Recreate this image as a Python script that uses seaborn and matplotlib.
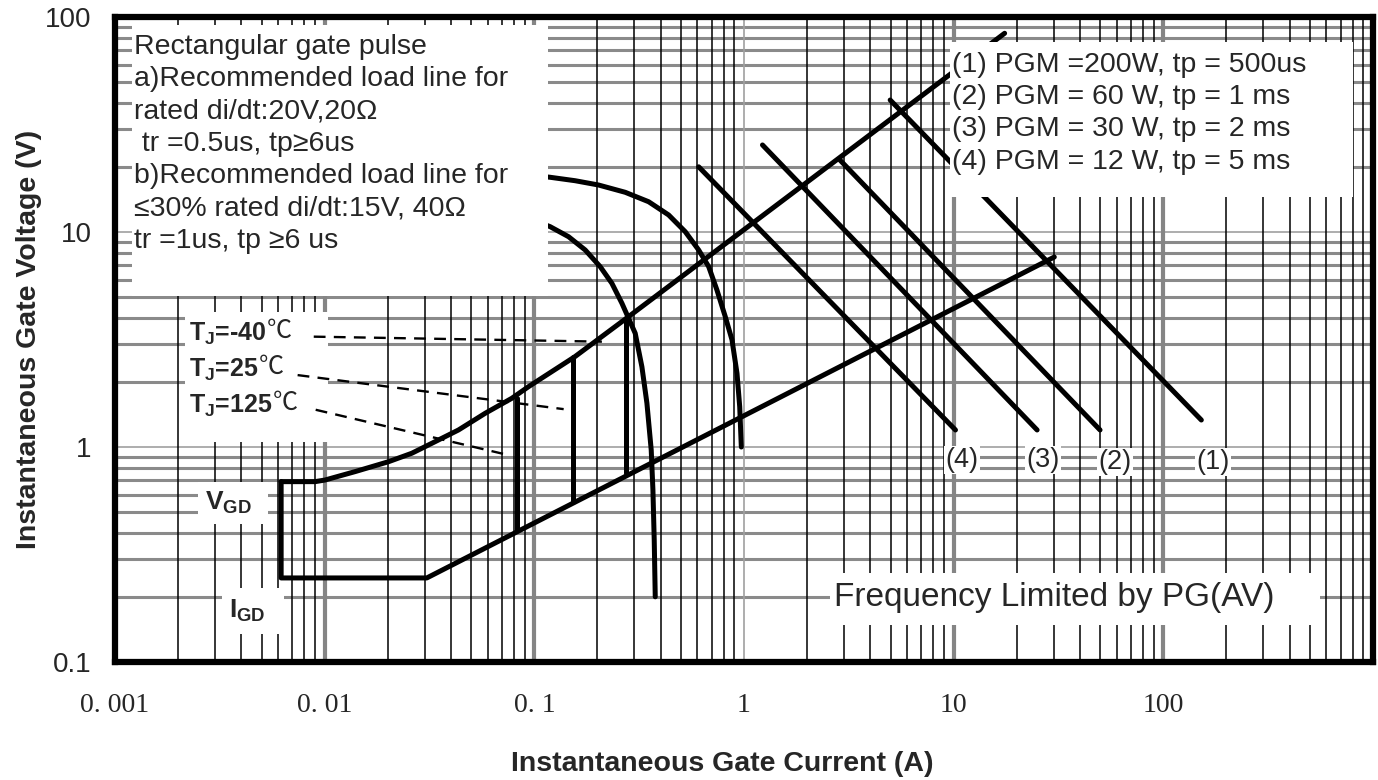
import numpy as np
import pandas as pd
import seaborn as sns
import matplotlib.pyplot as plt
from matplotlib.patches import Rectangle
from matplotlib.ticker import LogLocator, NullFormatter

# values (gate current A, gate voltage V)
load_a_I = [0.0062, 0.009, 0.01003, 0.01395, 0.02014, 0.02602, 0.03242, 0.04347,
            0.05823, 0.0781, 0.0938, 0.156, 0.275, 17.5]
load_a_V = [0.69, 0.69, 0.702, 0.768, 0.854, 0.935, 1.04, 1.20,
            1.434, 1.685, 1.908, 2.63, 3.97, 84]
load_b_I = [0.0062, 0.0062, 0.0307, 30.2]
load_b_V = [0.69, 0.246, 0.246, 7.65]

trig_I = [0.0824, 0.153, 0.275]
trig_V_top = [1.69, 2.63, 3.97]
trig_V_bot = [0.41, 0.556, 0.757]

arc_outer_I = [0.1, 0.1189, 0.1565, 0.2025, 0.2713, 0.3508, 0.4371, 0.5246, 0.6077,
               0.6785, 0.743, 0.814, 0.8765, 0.926, 0.954, 0.971]
arc_outer_V = [18.3, 17.97, 17.32, 16.54, 15.30, 13.83, 12.00, 10.03, 8.25,
               6.90, 5.37, 4.04, 3.15, 2.20, 1.54, 1.0]
arc_inner_I = [0.1, 0.1189, 0.1456, 0.1748, 0.2061, 0.2344, 0.2617, 0.3028,
               0.3259, 0.3443, 0.3610, 0.3678, 0.3731, 0.3773]
arc_inner_V = [11.3, 10.59, 9.51, 8.25, 6.90, 5.77, 4.66, 3.38,
               2.36, 1.60, 0.968, 0.631, 0.369, 0.201]

pgm_labels = ['(1)', '(2)', '(3)', '(4)']
pgm_text = ['(1) PGM =200W, tp = 500us', '(2) PGM = 60 W, tp = 1 ms',
            '(3) PGM = 30 W, tp = 2 ms', '(4) PGM = 12 W, tp = 5 ms']
pgm_I0 = [4.98, 2.87, 1.225, 0.608]
pgm_V0 = [41.1, 21.6, 25.4, 20.1]
pgm_I1 = [151.8, 49.9, 25.0, 10.2]
pgm_V1 = [1.335, 1.2, 1.2, 1.2]

tj_labels = ['-40', '25', '125']
tj_I0 = [0.00887, 0.00743, 0.00906]
tj_V0 = [3.26, 2.16, 1.49]
tj_I1 = [0.21, 0.138, 0.0715]
tj_V1 = [3.09, 1.50, 0.928]

x_ticks = [0.001, 0.01, 0.1, 1, 10, 100, 1000]
x_ticklabels = ['0. 001', '0. 01', '0. 1', '1', '10', '100', '']
y_ticks = [0.1, 1, 10, 100]
y_ticklabels = ['0.1', '1', '10', '100']

note = ("Rectangular gate pulse\n"
        "a)Recommended load line for\n"
        "rated di/dt:20V,20\u03a9\n"
        " tr =0.5us, tp\u22656us\n"
        "b)Recommended load line for\n"
        "\u226430% rated di/dt:15V, 40\u03a9\n"
        "tr =1us, tp \u22656 us")

# build one long table of solid curves
rows = []
def add(name, xs, ys):
    for x, y in zip(xs, ys):
        rows.append({'curve': name, 'I': x, 'V': y})

add('load_a', load_a_I, load_a_V)
add('load_b', load_b_I, load_b_V)
add('arc_outer', arc_outer_I, arc_outer_V)
add('arc_inner', arc_inner_I, arc_inner_V)
for i, x in enumerate(trig_I):
    add(f'trig{i}', [x, x], [trig_V_top[i], trig_V_bot[i]])
for i, lab in enumerate(pgm_labels):
    add('pgm' + lab, [pgm_I0[i], pgm_I1[i]], [pgm_V0[i], pgm_V1[i]])
df = pd.DataFrame(rows)

lead = []
for i, lab in enumerate(tj_labels):
    lead.append({'curve': lab, 'I': tj_I0[i], 'V': tj_V0[i]})
    lead.append({'curve': lab, 'I': tj_I1[i], 'V': tj_V1[i]})
df_lead = pd.DataFrame(lead)

sns.set_style('white')
plt.rcParams['font.family'] = ['Liberation Sans', 'DejaVu Sans']
plt.rcParams['mathtext.fontset'] = 'custom'
plt.rcParams['mathtext.rm'] = 'Liberation Sans'
plt.rcParams['mathtext.bf'] = 'Liberation Sans:bold'
plt.rcParams['mathtext.it'] = 'Liberation Sans:italic'

fig = plt.figure(figsize=(13.78, 7.80), dpi=100)
ax = fig.add_axes([115 / 1378, 118 / 780, 1258 / 1378, 645 / 780])

sns.lineplot(data=df, x='I', y='V', units='curve', estimator=None, sort=False,
             color='black', lw=3.6, ax=ax, zorder=2,
             solid_capstyle='round', solid_joinstyle='round')
sns.lineplot(data=df_lead, x='I', y='V', units='curve', estimator=None, sort=False,
             color='black', lw=1.7, ax=ax, zorder=4, dashes=False)
for ln in ax.lines[-3:]:
    ln.set_linestyle((0, (5, 3.5)))

ax.set_xscale('log')
ax.set_yscale('log')
ax.set_xlim(1e-3, 1e3)
ax.set_ylim(0.1, 100)
ax.set_xticks(x_ticks)
ax.set_xticklabels(x_ticklabels, fontfamily='Liberation Serif', fontsize=20)
ax.set_yticks(y_ticks)
ax.set_yticklabels(y_ticklabels, fontsize=20)
ax.xaxis.set_minor_locator(LogLocator(base=10, subs=np.arange(2, 10), numticks=20))
ax.yaxis.set_minor_locator(LogLocator(base=10, subs=np.arange(2, 10), numticks=20))
ax.xaxis.set_minor_formatter(NullFormatter())
ax.yaxis.set_minor_formatter(NullFormatter())
ax.tick_params(which='both', length=0)
ax.tick_params(axis='x', pad=22)
ax.tick_params(axis='y', pad=17)

ax.set_axisbelow(True)
ax.grid(which='major', axis='x', color='#858585', lw=3)
ax.grid(which='minor', axis='x', color='black', lw=1.1)
ax.grid(which='major', axis='y', color='#a0a0a0', lw=1.2)
ax.grid(which='minor', axis='y', color='#8a8a8a', lw=2.2)
ax.get_xgridlines()[3].set_linewidth(1.2)
ax.get_xgridlines()[3].set_color('#a0a0a0')
ax.xaxis.set_zorder(0.6)

for s in ax.spines.values():
    s.set_linewidth(4.5)
    s.set_color('black')
    s.set_zorder(5)

ax.set_xlabel('Instantaneous Gate Current (A)', fontsize=20.5, fontweight='bold')
ax.set_ylabel('Instantaneous Gate Voltage (V)', fontsize=20.5, fontweight='bold')
ax.xaxis.set_label_coords(0.483, -0.138)
ax.yaxis.set_label_coords(-0.058, 0.5)

# white boxes behind the annotations (axes fraction)
for x0, y0, w, h in [(0.0135, 0.5674, 0.3307, 0.4202),
                     (0.0556, 0.3411, 0.1137, 0.2016),
                     (0.0660, 0.2140, 0.0556, 0.0651),
                     (0.0851, 0.0434, 0.0493, 0.0713),
                     (0.6638, 0.7209, 0.3204, 0.2403),
                     (0.5684, 0.0574, 0.3895, 0.0806)]:
    ax.add_patch(Rectangle((x0, y0), w, h, transform=ax.transAxes,
                           facecolor='white', edgecolor='none', zorder=3))

ax.text(0.0151, 0.803, note, transform=ax.transAxes, fontsize=20.5,
        va='center', ha='left', linespacing=1.32, zorder=4)
ax.text(0.6653, 0.851, '\n'.join(pgm_text), transform=ax.transAxes, fontsize=20.5,
        va='center', ha='left', linespacing=1.32, zorder=4)
ax.text(0.5715, 0.1, 'Frequency Limited by PG(AV)', transform=ax.transAxes,
        fontsize=24, va='center', ha='left', zorder=4)

for lab, fx, fy in zip(['(4)', '(3)', '(2)', '(1)'],
                       [0.6733, 0.7377, 0.7949, 0.8728],
                       [0.3132, 0.3132, 0.3101, 0.3101]):
    ax.text(fx, fy, lab, transform=ax.transAxes, fontsize=19.5, ha='center', va='center',
            zorder=4, bbox=dict(facecolor='white', edgecolor='none', pad=1))

for lab, fy in zip(tj_labels, [0.5085, 0.4527, 0.3969]):
    t = ax.text(0.0588, fy, r'$\mathbf{T_J}$=' + lab, transform=ax.transAxes,
                fontsize=18, fontweight='bold', va='center', ha='left', zorder=4)
    ax.annotate('\u2103', xy=(1, 0.5), xycoords=t, xytext=(0, 2), textcoords='offset points',
                va='center', ha='left', fontsize=18, family=['Noto Sans CJK SC'], zorder=4)

ax.text(0.0715, 0.2465, r'$\mathbf{V_{GD}}$', transform=ax.transAxes, fontsize=19,
        va='center', ha='left', zorder=4)
ax.text(0.0906, 0.079, r'$\mathbf{I_{GD}}$', transform=ax.transAxes, fontsize=19,
        va='center', ha='left', zorder=4)

fig.savefig('out.png', dpi=100)
